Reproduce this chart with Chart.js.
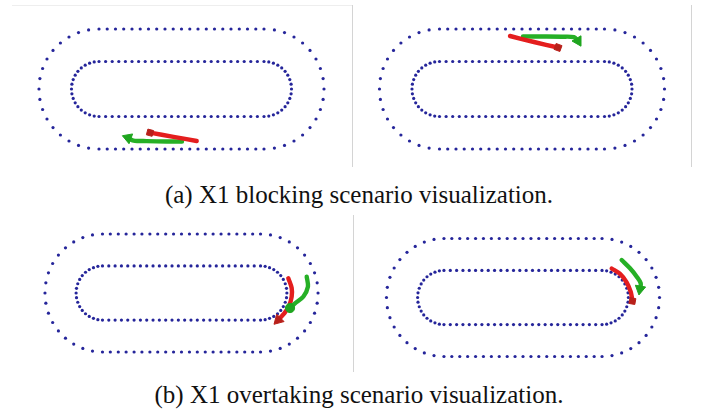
<!DOCTYPE html>
<html>
<head>
<meta charset="utf-8">
<script src="https://cdn.jsdelivr.net/npm/chart.js@4/dist/chart.umd.min.js"></script>
<style>
  html, body { margin: 0; padding: 0; background: #fff; }
  body { width: 702px; height: 416px; position: relative; overflow: hidden; }
  canvas { position: absolute; }
  .sep { position: absolute; background: #d4d4d4; }
  .cap { position: absolute; left: 0; width: 718px; text-align: center;
         font-family: "Liberation Serif", "Times New Roman", serif;
         font-size: 25px; line-height: 25px; color: #111; white-space: nowrap; }
</style>
</head>
<body>
<div class="sep" style="left:12px;top:5px;width:340px;height:1px;background:#eeeeee"></div>
<div class="sep" style="left:352px;top:5px;width:1px;height:162px"></div>
<div class="sep" style="left:691px;top:5px;width:1px;height:162px"></div>
<div class="sep" style="left:353px;top:215px;width:1px;height:157px"></div>

<canvas id="blockA" width="351" height="175" style="left:0;top:0"></canvas>
<canvas id="blockB" width="339" height="175" style="left:352px;top:0"></canvas>
<canvas id="overA" width="351" height="165" style="left:0;top:210px"></canvas>
<canvas id="overB" width="349" height="165" style="left:353px;top:210px"></canvas>

<div class="cap" style="top:182px">(a) X1 blocking scenario visualization.</div>
<div class="cap" style="top:382px">(b) X1 overtaking scenario visualization.</div>

<script>
// Track boundary markers (map units, y up), traced clockwise from the top-left.
const outerTrack = [
  [-82.5,60],[-74.3,60],[-66.0,60],[-57.8,60],[-49.5,60],[-41.3,60],[-33.0,60],[-24.8,60],[-16.5,60],[-8.3,60],
  [0,60],[8.3,60],[16.5,60],[24.8,60],[33.0,60],[41.3,60],[49.5,60],[57.8,60],[66.0,60],[74.3,60],[82.5,60],
  [92.9,59.1],[103.0,56.4],[112.5,52.0],[121.1,46.0],[128.5,38.6],[134.5,30.0],[138.9,20.5],[141.6,10.4],
  [142.5,0],[141.6,-10.4],[138.9,-20.5],[134.5,-30.0],[128.5,-38.6],[121.1,-46.0],[112.5,-52.0],[103.0,-56.4],[92.9,-59.1],
  [82.5,-60],[74.3,-60],[66.0,-60],[57.8,-60],[49.5,-60],[41.3,-60],[33.0,-60],[24.8,-60],[16.5,-60],[8.3,-60],
  [0,-60],[-8.3,-60],[-16.5,-60],[-24.8,-60],[-33.0,-60],[-41.3,-60],[-49.5,-60],[-57.8,-60],[-66.0,-60],[-74.3,-60],[-82.5,-60],
  [-92.9,-59.1],[-103.0,-56.4],[-112.5,-52.0],[-121.1,-46.0],[-128.5,-38.6],[-134.5,-30.0],[-138.9,-20.5],[-141.6,-10.4],
  [-142.5,0],[-141.6,10.4],[-138.9,20.5],[-134.5,30.0],[-128.5,38.6],[-121.1,46.0],[-112.5,52.0],[-103.0,56.4],[-92.9,59.1]
];
const innerTrack = [
  [-82.5,27.5],[-75.9,27.5],[-69.3,27.5],[-62.7,27.5],[-56.1,27.5],[-49.5,27.5],[-42.9,27.5],[-36.3,27.5],[-29.7,27.5],
  [-23.1,27.5],[-16.5,27.5],[-9.9,27.5],[-3.3,27.5],[3.3,27.5],[9.9,27.5],[16.5,27.5],[23.1,27.5],[29.7,27.5],
  [36.3,27.5],[42.9,27.5],[49.5,27.5],[56.1,27.5],[62.7,27.5],[69.3,27.5],[75.9,27.5],[82.5,27.5],
  [87.3,27.1],[91.9,25.8],[96.3,23.8],[100.2,21.1],[103.6,17.7],[106.3,13.8],[108.3,9.4],[109.6,4.8],
  [110,0],[109.6,-4.8],[108.3,-9.4],[106.3,-13.8],[103.6,-17.7],[100.2,-21.1],[96.3,-23.8],[91.9,-25.8],[87.3,-27.1],
  [82.5,-27.5],[75.9,-27.5],[69.3,-27.5],[62.7,-27.5],[56.1,-27.5],[49.5,-27.5],[42.9,-27.5],[36.3,-27.5],[29.7,-27.5],
  [23.1,-27.5],[16.5,-27.5],[9.9,-27.5],[3.3,-27.5],[-3.3,-27.5],[-9.9,-27.5],[-16.5,-27.5],[-23.1,-27.5],[-29.7,-27.5],
  [-36.3,-27.5],[-42.9,-27.5],[-49.5,-27.5],[-56.1,-27.5],[-62.7,-27.5],[-69.3,-27.5],[-75.9,-27.5],[-82.5,-27.5],
  [-87.3,-27.1],[-91.9,-25.8],[-96.3,-23.8],[-100.2,-21.1],[-103.6,-17.7],[-106.3,-13.8],[-108.3,-9.4],[-109.6,-4.8],
  [-110,0],[-109.6,4.8],[-108.3,9.4],[-106.3,13.8],[-103.6,17.7],[-100.2,21.1],[-96.3,23.8],[-91.9,25.8],[-87.3,27.1]
];

// Vehicle trajectories; the last point of each is the car's current pose.
const blockRedA   = [[15.2,-52.0],[-8.0,-47.8],[-31.5,-43.7]];
const blockGreenA = [[0.5,-52.6],[-15.0,-52.5],[-35.0,-52.1],[-48.0,-51.6],[-53.5,-48.8]];
const blockRedB   = [[-12.0,53.0],[12.0,47.0],[36.0,41.5]];
const blockGreenB = [[1.0,52.6],[20.0,52.5],[40.0,52.3],[52.0,51.8],[56.0,48.0]];
const overRedA    = [[111.5,15.0],[115.0,5.1],[115.0,-3.8],[112.0,-13.9],[107.0,-21.0],[101.0,-27.5]];
const overGreenA  = [[130.7,16.6],[132.0,6.4],[127.1,-3.8],[118.5,-10.5],[113.3,-15.3]];
const overRedB    = [[92.6,29.5],[101.3,24.0],[108.2,15.5],[112.4,6.0],[113.8,-0.8],[114.2,-3.6]];
const overGreenB  = [[103.0,38.1],[111.7,29.7],[118.7,21.2],[122.9,14.4],[122.1,8.6]];

const RED = '#e41e1e', RED_CAR = '#b8201a';
const GREEN = '#26b026', GREEN_CAR = '#1fa51f';
const TRACK = '#25259a';

function toXY(list) { return list.map(p => ({ x: p[0], y: p[1] })); }

function trackSet(list) {
  return {
    data: toXY(list), showLine: false,
    pointRadius: 1.6, pointHoverRadius: 1.6, pointBorderWidth: 0,
    pointBackgroundColor: TRACK, pointBorderColor: TRACK
  };
}

function pathSet(list, color, carColor, car) {
  const last = list.length - 1;
  return {
    data: toXY(list), showLine: true, tension: 0.3,
    borderColor: color, borderWidth: 4.4, borderCapStyle: 'round', borderJoinStyle: 'round',
    pointRadius: ctx => (ctx.dataIndex === last ? car.r : 0),
    pointHoverRadius: 0,
    pointStyle: car.style, rotation: car.rot,
    pointBackgroundColor: carColor, pointBorderColor: carColor, pointBorderWidth: 1
  };
}

// view: pixel position of the map origin inside the canvas and pixels per unit
function drawPanel(id, view, red, green, redCar, greenCar, greenOnTop) {
  const canvas = document.getElementById(id);
  const w = canvas.width, h = canvas.height;
  const redDs = pathSet(red, RED, RED_CAR, redCar);
  const greenDs = pathSet(green, GREEN, GREEN_CAR, greenCar);
  const paths = greenOnTop ? [greenDs, redDs] : [redDs, greenDs];
  new Chart(canvas, {
    type: 'scatter',
    data: { datasets: [...paths, trackSet(outerTrack), trackSet(innerTrack)] },
    options: {
      responsive: false, animation: false, devicePixelRatio: 1,
      layout: { padding: 0, autoPadding: false },
      plugins: { legend: { display: false }, tooltip: { enabled: false } },
      events: [],
      scales: {
        x: { type: 'linear', display: false, min: -view.cx / view.sx, max: (w - view.cx) / view.sx },
        y: { type: 'linear', display: false, min: -(h - view.cy) / view.sy, max: view.cy / view.sy }
      }
    }
  });
}

drawPanel('blockA', { cx: 181.5, cy: 89, sx: 1, sy: 1 }, blockRedA, blockGreenA,
  { style: 'rect', r: 4.2, rot: 15 }, { style: 'triangle', r: 6, rot: -70 }, false);
drawPanel('blockB', { cx: 170, cy: 89, sx: 1, sy: 1 }, blockRedB, blockGreenB,
  { style: 'rect', r: 4.4, rot: 20 }, { style: 'triangle', r: 6, rot: 150 }, false);
drawPanel('overA', { cx: 181.5, cy: 83, sx: 0.958, sy: 0.983 }, overRedA, overGreenA,
  { style: 'triangle', r: 6, rot: 225 }, { style: 'circle', r: 4.6, rot: 0 }, true);
drawPanel('overB', { cx: 170, cy: 87.5, sx: 0.958, sy: 0.983 }, overRedB, overGreenB,
  { style: 'rect', r: 4.2, rot: 10 }, { style: 'triangle', r: 6, rot: 190 }, false);
</script>
</body>
</html>
